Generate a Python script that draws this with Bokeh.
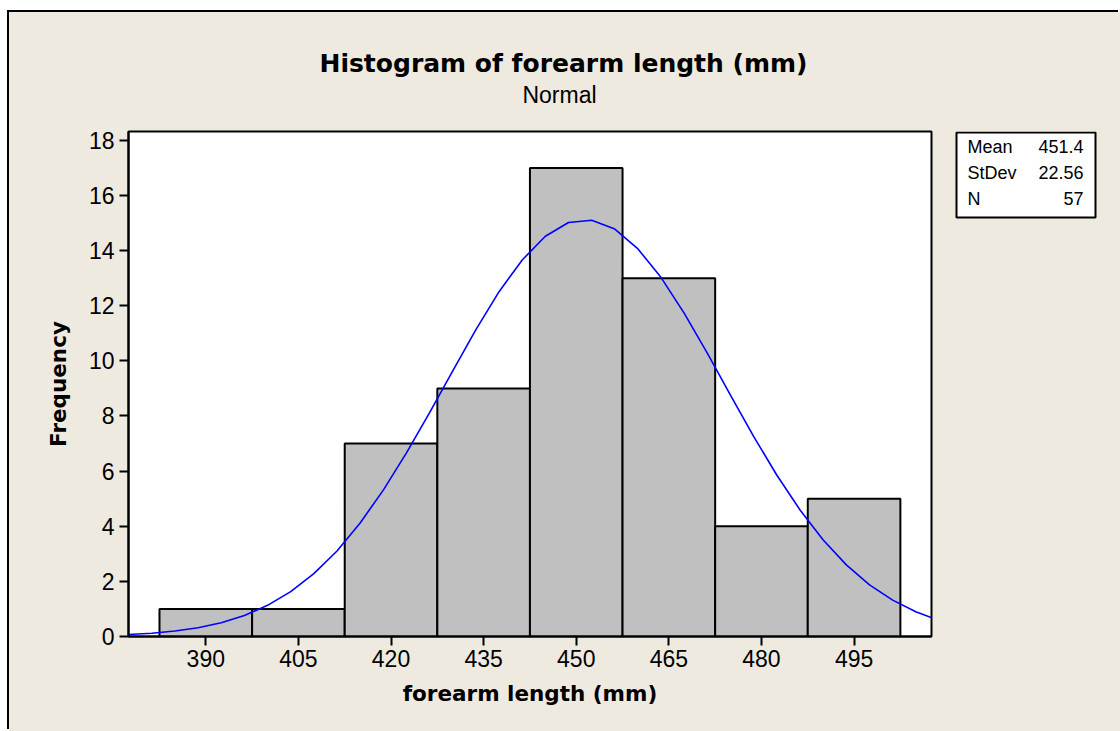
from bokeh.plotting import figure
from bokeh.layouts import column, row
from bokeh.models import FixedTicker, ColumnDataSource, Range1d
from bokeh.core.properties import value
from bokeh.embed import file_html
from bokeh.resources import INLINE

# ---- data ----
bin_centers = [390, 405, 420, 435, 450, 465, 480, 495]
bin_width = 15
counts = [1, 1, 7, 9, 17, 13, 4, 5]
x_ticks = [390, 405, 420, 435, 450, 465, 480, 495]
y_ticks = [0, 2, 4, 6, 8, 10, 12, 14, 16, 18]

# fitted normal curve
curve_x = [377.5, 381.25, 385, 388.75, 392.5, 396.25, 400, 403.75, 407.5, 411.25,
           415, 418.75, 422.5, 426.25, 430, 433.75, 437.5, 441.25, 445, 448.75,
           452.5, 456.25, 460, 463.75, 467.5, 471.25, 475, 478.75, 482.5, 486.25,
           490, 493.75, 497.5, 501.25, 505, 507.6]
curve_y = [0.07, 0.12, 0.20, 0.32, 0.50, 0.76, 1.13, 1.63, 2.28, 3.10,
           4.12, 5.31, 6.66, 8.12, 9.64, 11.13, 12.51, 13.66, 14.52, 15.02,
           15.10, 14.78, 14.06, 13.02, 11.72, 10.27, 8.75, 7.25, 5.85, 4.59,
           3.50, 2.60, 1.87, 1.32, 0.90, 0.68]

stat_names = ["Mean", "StDev", "N"]
stat_values = ["451.4", "22.56", "57"]

title = "Histogram of forearm length (mm)"
subtitle = "Normal"
x_label = "forearm length (mm)"
y_label = "Frequency"

BOLD_FONT = "DejaVu Sans"
FONT = "Liberation Sans"
BG = "#EEEAE0"

# ---- page geometry (pixels) ----
OFF_X, OFF_Y = 9, 12          # whole picture starts here, framed by a black line
TOTAL_W, TOTAL_H = 1120 - OFF_X, 731 - OFF_Y
HEADER_H = 108                # title band
BODY_Y = OFF_Y + HEADER_H     # page y where the plot canvases start
MAIN_W = 945
STATS_W = TOTAL_W - MAIN_W
STATS_X = OFF_X + MAIN_W      # page x where the stats canvas starts
BODY_H = TOTAL_H - HEADER_H
FR_L, FR_R, FR_T, FR_B = 128, 931, 131, 636   # plot frame in page pixels
BOX_L, BOX_R, BOX_T, BOX_B = 956, 1095, 131, 217  # stats box in page pixels


def bare_fig(w, h, xr, yr, **kw):
    f = figure(width=w, height=h, output_backend="svg", toolbar_location=None,
               x_axis_location=None, y_axis_location=None, x_range=xr, y_range=yr, **kw)
    f.grid.visible = False
    f.border_fill_color = BG
    f.background_fill_color = BG
    f.outline_line_color = None
    return f


# ---- header with title / subtitle ----
head = bare_fig(TOTAL_W, HEADER_H, Range1d(0, TOTAL_W), Range1d(HEADER_H, 0),
                min_border=0)
head.text(x=[563 - OFF_X], y=[63 - OFF_Y], text=[title], text_align="center",
          text_baseline="alphabetic", text_font=value(BOLD_FONT), text_font_style="bold",
          text_font_size="25px", text_color="black")
head.text(x=[559 - OFF_X], y=[94 - OFF_Y], text=[subtitle], text_align="center",
          text_baseline="alphabetic", text_font=value(FONT),
          text_font_size="23px", text_color="black")

# ---- main histogram ----
MB_TOP = FR_T - BODY_Y
MB_BOT = BODY_H - (FR_B - BODY_Y)
p = figure(width=MAIN_W, height=BODY_H, output_backend="svg", toolbar_location=None,
           x_range=(377.48, 507.54), y_range=(0, 18.32),
           min_border_left=FR_L - OFF_X, min_border_right=MAIN_W - (FR_R - OFF_X),
           min_border_top=MB_TOP, min_border_bottom=MB_BOT)
p.background_fill_color = "white"
p.border_fill_color = BG
p.outline_line_color = "black"
p.outline_line_width = 2
p.grid.visible = False

lefts = [c - bin_width / 2 for c in bin_centers]
rights = [c + bin_width / 2 for c in bin_centers]
src = ColumnDataSource(dict(left=lefts, right=rights, top=counts, bottom=[0] * len(counts)))
p.quad(left="left", right="right", top="top", bottom="bottom", source=src,
       fill_color="#C0C0C0", line_color="black", line_width=2)
p.line(curve_x, curve_y, line_color="#0000FF", line_width=1.6)

for ax in (p.xaxis[0], p.yaxis[0]):
    ax.major_tick_in = 0
    ax.major_tick_out = 9
    ax.minor_tick_in = 0
    ax.minor_tick_out = 0
    ax.axis_line_color = "black"
    ax.axis_line_width = 2
    ax.major_tick_line_width = 2
    ax.major_label_text_font = FONT
    ax.major_label_text_font_size = "23px"
    ax.major_label_text_color = "black"
    ax.axis_label_text_font = BOLD_FONT
    ax.axis_label_text_font_style = "bold"
    ax.axis_label_text_font_size = "21.5px"
    ax.axis_label_text_color = "black"

p.xaxis.ticker = FixedTicker(ticks=x_ticks)
p.yaxis.ticker = FixedTicker(ticks=y_ticks)
p.xaxis.axis_label = x_label
p.yaxis.axis_label = y_label
p.xaxis.major_label_standoff = 4
p.xaxis.axis_label_standoff = 11
p.yaxis.major_label_standoff = 5
p.yaxis.axis_label_standoff = 15

# ---- stats box (its canvas frame spans the same rows as the plot frame) ----
SF_W, SF_H = STATS_W, FR_B - FR_T
s = bare_fig(STATS_W, BODY_H, Range1d(0, SF_W), Range1d(SF_H, 0),
             min_border_left=0, min_border_right=0,
             min_border_top=MB_TOP, min_border_bottom=MB_BOT)
s.quad(left=[BOX_L - STATS_X], right=[BOX_R - STATS_X],
       top=[BOX_T - FR_T + 1], bottom=[BOX_B - FR_T],
       fill_color="white", line_color="black", line_width=2)
row_base = [146 - FR_T, 172 - FR_T, 198 - FR_T]
s.text(x=[967 - STATS_X] * 3, y=row_base, text=stat_names, text_align="left",
       text_baseline="alphabetic", text_font=value(FONT), text_font_size="18px",
       text_color="black")
s.text(x=[1083 - STATS_X] * 3, y=row_base, text=stat_values, text_align="right",
       text_baseline="alphabetic", text_font=value(FONT), text_font_size="18px",
       text_color="black")

body = row(p, s, spacing=0)
body.styles = {"background-color": BG}
layout = column(head, body, spacing=0, margin=(OFF_Y, 0, 0, OFF_X))
layout.styles = {"box-shadow": "-2px -2px 0 0 black", "background-color": BG}

open("out.html", "w").write(file_html(layout, INLINE))
